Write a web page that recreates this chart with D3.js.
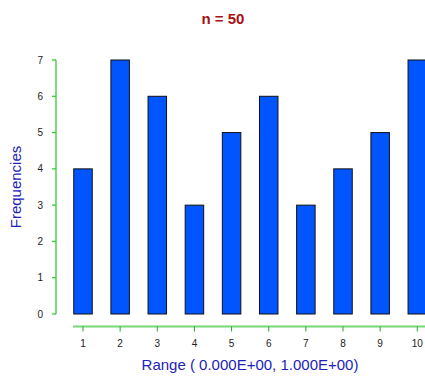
<!DOCTYPE html>
<html lang="en">
<head>
    <meta charset="UTF-8">
    <title>n = 50</title>
    <script src="https://d3js.org/d3.v7.min.js"></script>
    <style>
        body { margin: 0; background: #fff; }
        text { font-family: Arial, "Liberation Sans", sans-serif; }
        .tick-label { font-size: 10px; fill: #222; }
        .bar { fill: #0055ff; stroke: #111; stroke-width: 1px; }
    </style>
</head>
<body>
    <svg width="425" height="378"></svg>

    <script>
        // Histogram bins and their counts
        const bins = [1, 2, 3, 4, 5, 6, 7, 8, 9, 10];
        const counts = [4, 7, 6, 3, 5, 6, 3, 4, 5, 7];
        const yTicks = [0, 1, 2, 3, 4, 5, 6, 7];

        const svg = d3.select("svg");

        const x = d3.scaleLinear().domain([1, 10]).range([83, 417.3]);
        const y = d3.scaleLinear().domain([0, 7]).range([314, 60]);
        const barWidth = 18.5;

        // bars
        svg.selectAll(".bar")
            .data(bins)
            .enter().append("rect")
            .attr("class", "bar")
            .attr("x", (d) => x(d) - barWidth / 2)
            .attr("y", (d, i) => y(counts[i]))
            .attr("width", barWidth)
            .attr("height", (d, i) => y(0) - y(counts[i]));

        // y axis (line on the left of the plot, ticks pointing left)
        const yAxis = svg.append("g").attr("transform", "translate(56,0)");
        yAxis.append("line")
            .attr("y1", y(0)).attr("y2", y(7))
            .attr("stroke", "#33cc33").attr("stroke-width", 1.3);
        yAxis.selectAll(".yt")
            .data(yTicks)
            .enter().append("line")
            .attr("x1", -4).attr("x2", 0)
            .attr("y1", d => y(d)).attr("y2", d => y(d))
            .attr("stroke", "#33cc33").attr("stroke-width", 1.3);
        yAxis.selectAll(".yl")
            .data(yTicks)
            .enter().append("text")
            .attr("class", "tick-label")
            .attr("x", -13)
            .attr("y", d => y(d))
            .attr("dy", "0.35em")
            .attr("text-anchor", "end")
            .text(d => d);

        // x axis (detached line below the bars)
        const xAxis = svg.append("g").attr("transform", "translate(0,326.5)");
        xAxis.append("line")
            .attr("x1", 73).attr("x2", 430)
            .attr("stroke", "#77d677").attr("stroke-width", 2);
        xAxis.selectAll(".xt")
            .data(bins)
            .enter().append("line")
            .attr("x1", d => x(d)).attr("x2", d => x(d))
            .attr("y1", 0).attr("y2", 5)
            .attr("stroke", "#22aa22").attr("stroke-width", 1);
        xAxis.selectAll(".xl")
            .data(bins)
            .enter().append("text")
            .attr("class", "tick-label")
            .attr("x", d => x(d))
            .attr("y", 20)
            .attr("text-anchor", "middle")
            .text(d => d);

        // titles
        svg.append("text")
            .attr("x", 223).attr("y", 24)
            .attr("text-anchor", "middle")
            .style("font-size", "15px").style("font-weight", "bold")
            .style("fill", "#aa1111")
            .text("n = 50");

        svg.append("text")
            .attr("x", 250).attr("y", 369.5)
            .attr("text-anchor", "middle")
            .style("font-size", "15px")
            .style("fill", "#2222bb")
            .text("Range ( 0.000E+00, 1.000E+00)");

        svg.append("text")
            .attr("transform", "translate(21,187) rotate(-90)")
            .attr("text-anchor", "middle")
            .style("font-size", "15px")
            .style("fill", "#2222bb")
            .text("Frequencies");
    </script>
</body>
</html>
